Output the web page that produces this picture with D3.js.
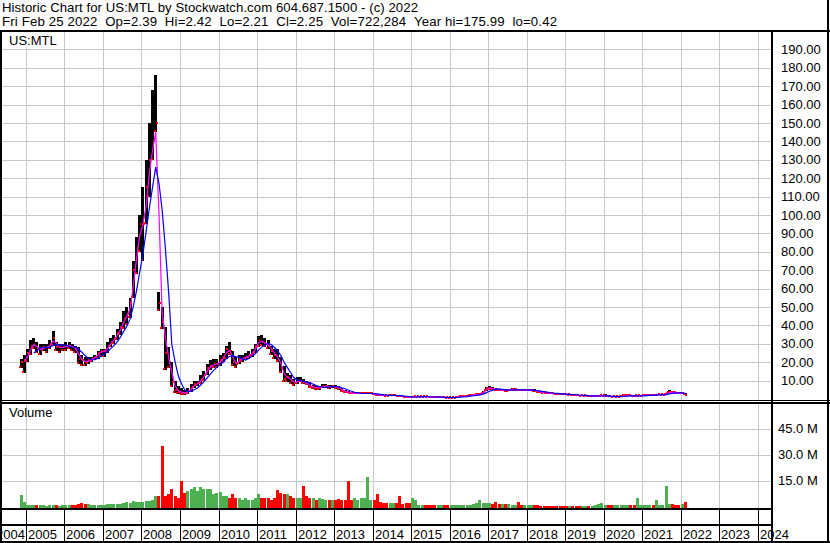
<!DOCTYPE html>
<html><head><meta charset="utf-8">
<script src="https://cdn.jsdelivr.net/npm/d3@7"></script>
<style>body{margin:0;background:#fff}svg{display:block}text{font-family:"Liberation Sans",Arial,sans-serif;font-size:13px;fill:#000}</style>
</head><body><svg id="c" width="830" height="543"></svg>
<script>
// Monthly data starting Nov 2004 (through Feb 2022)
const startYear = 2004, startMonth = 10;
const hi = [22,24,
27,32,33,31,30,30,30,32,37,31,30,30,
31,31,30,29,28,24,23,23,23,24,26,27,
27,31,33,35,38,42,48,50,55,75,88,100,
115,130,150,168,176,58,50,39,28,20,10,7,
6,5,6,8,10,10,13,15,19,21,22,22,
24,25,29,31,26,23,24,24,25,26,27,30,
34,35,33,32,29,27,27,23,18,14,13,11,
12,12,11,10,9,7.5,7,7,8,8,7.5,7.5,
7.5,7,6,5,4.5,4,3.5,3.5,3.5,3.5,3.5,3.5,
3,2.8,2.5,2.4,2.4,2.5,2.5,2.2,2,1.6,1.3,1.2,
1.5,1.5,1.6,1.7,1.6,1.5,1.3,1.2,1.2,1.2,1.1,1,
1,1,1.4,1.8,1.8,1.8,2.2,2.6,2.8,3,4.5,6.5,
6.8,6.5,6,5.5,5.5,5.3,5.5,5.8,5.8,5.6,5.5,5.5,
5.5,5.5,5.3,5,4.5,4,3.8,3.5,3.5,3.3,3.2,3,
2.8,2.8,2.6,2.5,2.3,2.3,2.2,2,2,2,2,2.2,
2.8,2,1.6,1.5,1.6,1.8,2.6,2.5,2,1.8,2,2.2,
2.4,2.6,2.6,2.4,2.6,2.8,2.8,3.5,5,4.5,4,3.5,
3.5,3.2];
const lo = [17,14,
20,24,27,25,24,26,25,27,29,26,25,26,
26,27,26,25,19,18,18,19,20,21,22,23,
23,25,28,30,32,35,38,40,44,55,68,80,
75,95,110,130,145,48,38,16,17,6.5,3,2.5,
2,2,2.5,4,6,7,8,10,13,16,17,17,
18,20,22,24,18,17,19,20,21,22,23,25,
28,29,28,27,24,22,20,14,9,9,8,7,
8,9,8,7.5,6,5.5,5,5,6,6,5.5,6,
5.5,5,4,3.5,3,2.5,2.5,2.5,2.5,2.5,2.5,2.5,
2,1.8,1.6,1.5,1.5,1.6,1.6,1.5,1.2,1,0.8,0.6,
0.8,1,1,1.1,1,0.9,0.8,0.7,0.7,0.7,0.6,0.5,
0.42,0.6,0.8,1.1,1.2,1.2,1.5,1.8,2,2.2,2.6,4.5,
5,5,4.5,4.2,4.2,4,4.2,4.5,4.5,4.4,4.2,4.2,
4.2,4.2,4,3.5,3.2,3,2.8,2.6,2.5,2.4,2.3,2.2,
2,2,1.8,1.7,1.5,1.5,1.5,1.3,1.3,1.3,1.3,1.4,
1.4,1.3,0.9,1,1,1.2,1.4,1.6,1.4,1.3,1.4,1.5,
1.6,1.8,1.8,1.7,1.8,2,2,2.2,3.2,3.2,3,2.8,
2.5,2.2];
const cl = [20,21,
25,29,30,27,27,28,28,30,33,28,28,28,
29,29,28,27,22,21,20,21,22,23,25,26,
26,29,31,33,36,39,44,46,52,70,82,95,
95,115,130,140,150,52,42,25,20,9,5,4,
3.5,3,4.5,6,8,8.5,11,13,17,18,19,19,
21,23,27,26,20,19,22,22,23,24,25,29,
32,31,30,29,26,24,22,17,11,12,10,8.5,
10,10,9,8.5,6.5,6.5,6,6,7,7,6.5,7,
6.5,6,4.5,4,3.5,3,3,3,3,3,3,3,
2.5,2.2,2,1.9,1.8,2,2,1.8,1.5,1.2,1,0.9,
1.2,1.2,1.3,1.3,1.2,1.1,1,0.9,0.9,1,0.8,0.7,
0.7,0.8,1.2,1.5,1.5,1.6,2,2.3,2.5,2.6,4,6,
6,5.5,5,4.8,4.8,4.6,5,5.2,5.2,5,4.8,4.8,
4.8,4.8,4.5,4,3.5,3.3,3.2,3,2.9,2.8,2.7,2.5,
2.4,2.4,2.2,2,1.8,1.8,1.8,1.6,1.6,1.6,1.6,1.8,
1.8,1.5,1.1,1.2,1.3,1.5,2,2,1.6,1.5,1.7,1.9,
2,2.2,2.2,2,2.2,2.4,2.4,3,3.8,3.6,3.2,3,
3,2.25];
const vol = [6.5,2.5,
1,0.8,0.8,0.6,0.6,0.6,0.5,0.6,0.8,0.6,0.5,0.6,
0.6,0.6,0.8,0.8,1.2,2,1.5,1.2,1,1,1,1,
1,1.2,1.2,1.5,1.5,1.5,2,2.5,2,3,2.5,2.5,
2.5,3,3,3.5,6,6,35,6,7,10,6,5,
14.5,8,9,10,11,9,11,10,10,10,7,8,
8.5,6,6,5,7,5,5,4,5,4,4,5,
7.5,5,5,5,4,5,9.5,8,7,7,6,5,
5,5,12,6,5,5,4,5,4.5,4,4,4,
4,4.5,4,4,14.5,4,5,4,5,5,17,4,
4,7,2.5,2,2,2,2,2,6,1.5,2,2,
5,4,1,1,1,0.8,0.8,0.8,0.8,0.6,0.6,0.6,
0.8,0.8,0.8,1,1,1,1,1.5,2,4,2,2,
2,1.5,2.5,1.2,1.2,1.2,1.5,1,1,2.5,0.8,0.8,
0.8,0.8,0.6,0.6,0.5,0.5,0.5,0.5,0.5,0.5,0.5,0.5,
0.5,0.5,0.5,0.5,0.5,0.5,0.5,0.5,0.5,0.6,1.2,2,
0.6,0.6,0.6,0.6,0.6,0.6,0.8,0.6,0.6,1,4.8,0.8,
0.8,0.8,0.8,0.8,4,1,1,12,1.5,1.5,1,1,
1.5,2.5];
const priceTicks = d3.range(10, 200, 10);
const volTicks = [15, 30, 45];
const yearTicks = d3.range(2004, 2025);
const header1 = "Historic Chart for US:MTL by Stockwatch.com 604.687.1500 - (c) 2022";
const header2 = "Fri Feb 25 2022  Op=2.39  Hi=2.42  Lo=2.21  Cl=2.25  Vol=722,284  Year hi=175.99  lo=0.42";

const svg = d3.select("#c");
const W = 830, H = 543, plotR = 771;
const x = d3.scaleTime().domain([new Date(2005,0,1), new Date(2024,0,1)]).range([26, 757.7]);
const yP = d3.scaleLinear().domain([0,200]).range([399, 31]);
const yV = d3.scaleLinear().domain([0,60]).range([506.5, 402.5]);
const dates = cl.map((_, i) => new Date(startYear, startMonth + i, 15));

svg.append("rect").attr("width", W).attr("height", H).attr("fill", "#fff");

// header
svg.append("text").attr("x", 2).attr("y", 12).style("font-size","13.2px")
  .attr("textLength", 416).attr("lengthAdjust","spacing").text(header1);
svg.append("text").attr("x", 2).attr("y", 25.5).style("font-size","13.2px")
  .attr("textLength", 555).attr("lengthAdjust","spacing").text(header2.replace(/ /g, "\u00a0"));

const grid = svg.append("g").attr("stroke", "#c8c8c8").attr("stroke-width", 1).attr("shape-rendering","crispEdges");
priceTicks.forEach(v => grid.append("line").attr("x1",0).attr("x2",plotR).attr("y1",Math.round(yP(v))+0.5).attr("y2",Math.round(yP(v))+0.5));
yearTicks.forEach(yr => { const xx = Math.round(x(new Date(yr,0,1)))+0.5;
  grid.append("line").attr("x1",xx).attr("x2",xx).attr("y1",32).attr("y2",400);
  grid.append("line").attr("x1",xx).attr("x2",xx).attr("y1",404).attr("y2",508);
});
volTicks.forEach(v => grid.append("line").attr("x1",0).attr("x2",plotR).attr("y1",Math.round(yV(v))+0.5).attr("y2",Math.round(yV(v))+0.5));

// panel labels
svg.append("rect").attr("x",2).attr("y",32).attr("width",56).attr("height",15).attr("fill","#fff");
svg.append("text").attr("x",9).attr("y",45).text("US:MTL");
svg.append("text").attr("x",9).attr("y",417).text("Volume");

// price bars
const pb = svg.append("g").attr("shape-rendering","crispEdges");
cl.forEach((c, i) => {
  const cx = x(dates[i]);
  const y1 = yP(hi[i]), y2 = yP(lo[i]);
  pb.append("rect").attr("x", cx-1.5).attr("width", 3).attr("y", y1).attr("height", Math.max(1, y2-y1)).attr("fill", "#000");
  pb.append("rect").attr("x", cx).attr("width", 2).attr("y", yP(c)-1).attr("height", 2).attr("fill", "#ff0000");
  pb.append("rect").attr("x", cx-2).attr("width", 2).attr("y", y2-2).attr("height", 2).attr("fill", "#ff0000");
});

// moving averages
function sma(arr, n){ return arr.map((v,i)=> i < n-1 ? null : d3.mean(arr.slice(i-n+1, i+1))); }
const maShort = sma(cl, 2), maLong = sma(cl, 5);
const line = d3.line().defined(d => d.v != null).x(d => x(d.d)).y(d => yP(d.v));
svg.append("path").datum(maShort.map((v,i)=>({d:dates[i], v})))
  .attr("d", line).attr("fill","none").attr("stroke","#ff00ff").attr("stroke-width",1.2);
svg.append("path").datum(maLong.map((v,i)=>({d:dates[i], v})))
  .attr("d", line).attr("fill","none").attr("stroke","#0000ff").attr("stroke-width",1.2);

// volume bars
const vb = svg.append("g").attr("shape-rendering","crispEdges");
vol.forEach((v, i) => {
  const cx = x(dates[i]);
  const up = i === 0 ? true : cl[i] >= cl[i-1];
  vb.append("rect").attr("x", cx-1.5).attr("width", 3).attr("y", yV(v)).attr("height", 508 - yV(v))
    .attr("fill", up ? "#4cb050" : "#ff0000");
});

// frames
const fr = svg.append("g").attr("fill","#000").attr("shape-rendering","crispEdges");
fr.append("rect").attr("x",0).attr("y",30).attr("width",W).attr("height",2);
fr.append("rect").attr("x",0).attr("y",30).attr("width",2).attr("height",H-30);
fr.append("rect").attr("x",827).attr("y",0).attr("width",2).attr("height",H);
fr.append("rect").attr("x",0).attr("y",400).attr("width",W).attr("height",1);
fr.append("rect").attr("x",0).attr("y",402).attr("width",W).attr("height",2);
fr.append("rect").attr("x",0).attr("y",508).attr("width",plotR).attr("height",2);
fr.append("rect").attr("x",0).attr("y",524).attr("width",plotR).attr("height",2);
fr.append("rect").attr("x",0).attr("y",541).attr("width",W).attr("height",2);

// x axis ticks and labels
yearTicks.forEach(yr => {
  const xx = Math.round(x(new Date(yr,0,1)));
  fr.append("rect").attr("x",xx).attr("y",509).attr("width",1).attr("height",33);
  if (yr === yearTicks[0]) {
    svg.append("text").attr("x", Math.round(x(new Date(yr+1,0,1))) - 1).attr("y", 539).attr("text-anchor","end").text(yr);
  } else {
    svg.append("text").attr("x", xx+2).attr("y", 539).text(yr);
  }
});
fr.append("rect").attr("x",plotR).attr("y",30).attr("width",2).attr("height",H-30);

// right axis labels
priceTicks.forEach(v => svg.append("text").attr("x",781).attr("y",yP(v)).attr("dy","0.35em").text(d3.format(".2f")(v)));
volTicks.forEach(v => svg.append("text").attr("x",778).attr("y",yV(v)).attr("dy","0.35em").text(d3.format(".1f")(v) + " M"));
</script>
</body></html>
